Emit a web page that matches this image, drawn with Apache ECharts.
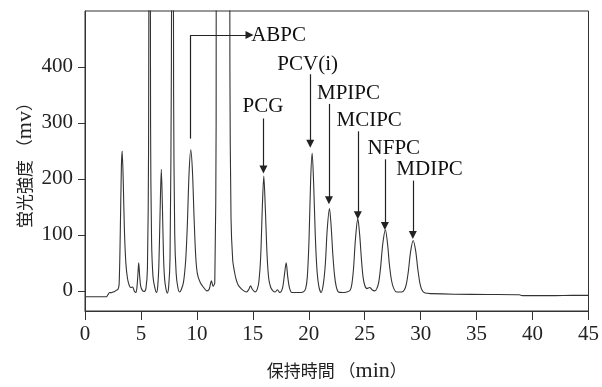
<!DOCTYPE html>
<html>
<head>
<meta charset="utf-8">
<script src="https://cdn.jsdelivr.net/npm/echarts@6/dist/echarts.min.js"></script>
<style>html,body{margin:0;padding:0;background:#fff;}#c{width:602px;height:387px;}</style>
</head>
<body>
<div id="c"></div>
<script>
// Retention time (min)
var times = [0,1.9,2.05,2.2,2.35,2.5,2.65,2.8,2.95,3.05,3.15,3.25,3.32,3.42,3.52,3.65,3.8,3.95,4.1,4.25,4.4,4.55,4.65,4.73,4.8,4.88,4.98,5.15,5.3,5.45,5.58,5.68,5.78,5.86,5.95,6.08,6.25,6.4,6.5,6.6,6.7,6.82,6.92,7.02,7.12,7.25,7.35,7.48,7.6,7.72,7.83,7.92,8.02,8.15,8.3,8.45,8.6,8.8,9.0,9.15,9.3,9.45,9.6,9.75,9.9,10.05,10.3,10.6,10.9,11.1,11.3,11.45,11.6,11.72,11.78,12.3,12.85,12.95,13.05,13.2,13.35,13.5,13.7,13.95,14.2,14.45,14.65,14.8,14.95,15.2,15.4,15.55,15.7,15.85,15.98,16.12,16.27,16.42,16.6,16.8,17.0,17.2,17.4,17.65,17.82,17.98,18.12,18.28,18.5,19.0,19.5,19.72,19.87,20.02,20.17,20.3,20.43,20.58,20.73,20.9,21.1,21.3,21.48,21.65,21.85,22.0,22.15,22.3,22.45,22.65,23.0,23.4,23.7,23.85,24.0,24.17,24.38,24.55,24.7,24.85,25.0,25.2,25.45,25.65,25.9,26.08,26.25,26.42,26.62,26.85,27.05,27.2,27.4,27.6,27.85,28.3,28.55,28.72,28.9,29.1,29.33,29.55,29.75,29.95,30.15,30.4,31,33,36,38.8,39.1,42,43.5,45];
// Fluorescence intensity (mV)
var signal = [-10.5,-10.5,-7,-3,-3.5,-2,-1,1,3,12,100,220,250,195,110,50,22,10,6,7,0,-3,8,30,50,28,8,0,-1,5,40,250,1500,300,90,25,5,-3,8,45,130,217,150,60,20,2,-4,8,60,400,1500,350,100,30,6,-2,2,15,55,120,210,252,215,130,60,30,15,6,0,3,18,8,15,300,2000,5000,2000,400,130,55,35,21,10,4,0,-2,3,9,3,-2,3,18,60,150,205,145,65,22,6,0,-2,2,-3,5,28,50,25,5,-3,-3,-2,4,25,90,200,246,195,100,38,8,-3,12,48,110,147,115,65,28,8,-2,-3,-2,1,12,40,92,129,100,58,25,10,4,6,2,0,4,15,42,85,109,82,48,18,4,-2,-2,2,12,35,70,90,72,38,12,0,-4,-5,-6,-6.5,-7,-8.5,-8.5,-8,-8];
var xTicks = [0,5,10,15,20,25,30,35,40,45];
var yTicks = [0,100,200,300,400];
var peakNames = ['ABPC','PCG','PCV(i)','MPIPC','MCIPC','NFPC','MDIPC'];

var series = times.map(function(t,i){return [t, signal[i]];});

// annotation layout (data coordinates): label centre, arrow line
var labelPos = [[17.3,457],[15.9,330],[19.9,405],[23.55,353],[25.4,305],[27.6,255],[30.8,216]];
var arrows = [[15.95,308,217],[20.13,387,263],[21.8,334,162],[24.38,285,135],[26.8,235,116],[29.3,197,100]];

var arrowLine = arrows.map(function(a){
  return [{coord:[a[0],a[1]], symbol:'none'},{coord:[a[0],a[2]], symbol:'triangle'}];
});
// ABPC bracket
arrowLine.push([{coord:[9.45,272], symbol:'none'},{coord:[9.45,457], symbol:'none'}]);
arrowLine.push([{coord:[9.45,457], symbol:'none'},{coord:[14.7,457], symbol:'triangle'}]);

var chart = echarts.init(document.getElementById('c'), null, {renderer:'canvas'});
var serif = 'Liberation Serif';
var cjk = 'Noto Sans CJK JP';
var nameRich = {
  c:{fontFamily:cjk, fontSize:17, color:'#222'},
  l:{fontFamily:serif, fontSize:22, color:'#222'}
};
chart.setOption({
  animation:false,
  backgroundColor:'#fff',
  grid:{left:85, right:13, top:11, bottom:71, show:true, borderColor:'#333', borderWidth:1},
  xAxis:{
    type:'value', min:0, max:45, interval:5,
    name:'{c|保持時間 （}{l|min}{c|）}', nameLocation:'middle', nameGap:49,
    nameTextStyle:{rich:nameRich},
    axisLine:{show:true, onZero:false, lineStyle:{color:'#333', width:1}},
    axisTick:{show:true, inside:false, length:9, lineStyle:{color:'#333'}},
    axisLabel:{fontFamily:serif, fontSize:21, color:'#222', margin:13,
      formatter:function(v){return xTicks.indexOf(v)>=0 ? String(v) : '';}},
    splitLine:{show:false}
  },
  yAxis:{
    type:'value', min:-36, max:500,
    name:'{c|蛍光強度 （}{l|mv}{c|）}', nameLocation:'middle', nameGap:49, nameRotate:90,
    nameMoveOverlap:false,
    nameTextStyle:{rich:nameRich},
    axisLine:{show:true, onZero:false, lineStyle:{color:'#333', width:1}},
    axisTick:{show:true, length:7, customValues:yTicks, lineStyle:{color:'#333'}},
    axisLabel:{fontFamily:serif, fontSize:21, color:'#222', margin:12, customValues:yTicks},
    splitLine:{show:false}
  },
  series:[
    {
      type:'line', data:series, showSymbol:false, symbol:'none', smooth:0.3, clip:true,
      lineStyle:{color:'#333', width:1.1},
      silent:true,
      markLine:{
        silent:true, symbolSize:8, animation:false,
        label:{show:false},
        lineStyle:{color:'#222', width:1.2, type:'solid'},
        emphasis:{disabled:true},
        data:arrowLine
      }
    },
    {
      type:'scatter', symbolSize:0, silent:true,
      data:labelPos.map(function(p,i){return {value:p, name:peakNames[i]};}),
      label:{show:true, position:'inside', formatter:'{b}', fontFamily:serif, fontSize:21,
        color:'#111', textBorderWidth:0, opacity:1}
    }
  ]
});
</script>
</body>
</html>
